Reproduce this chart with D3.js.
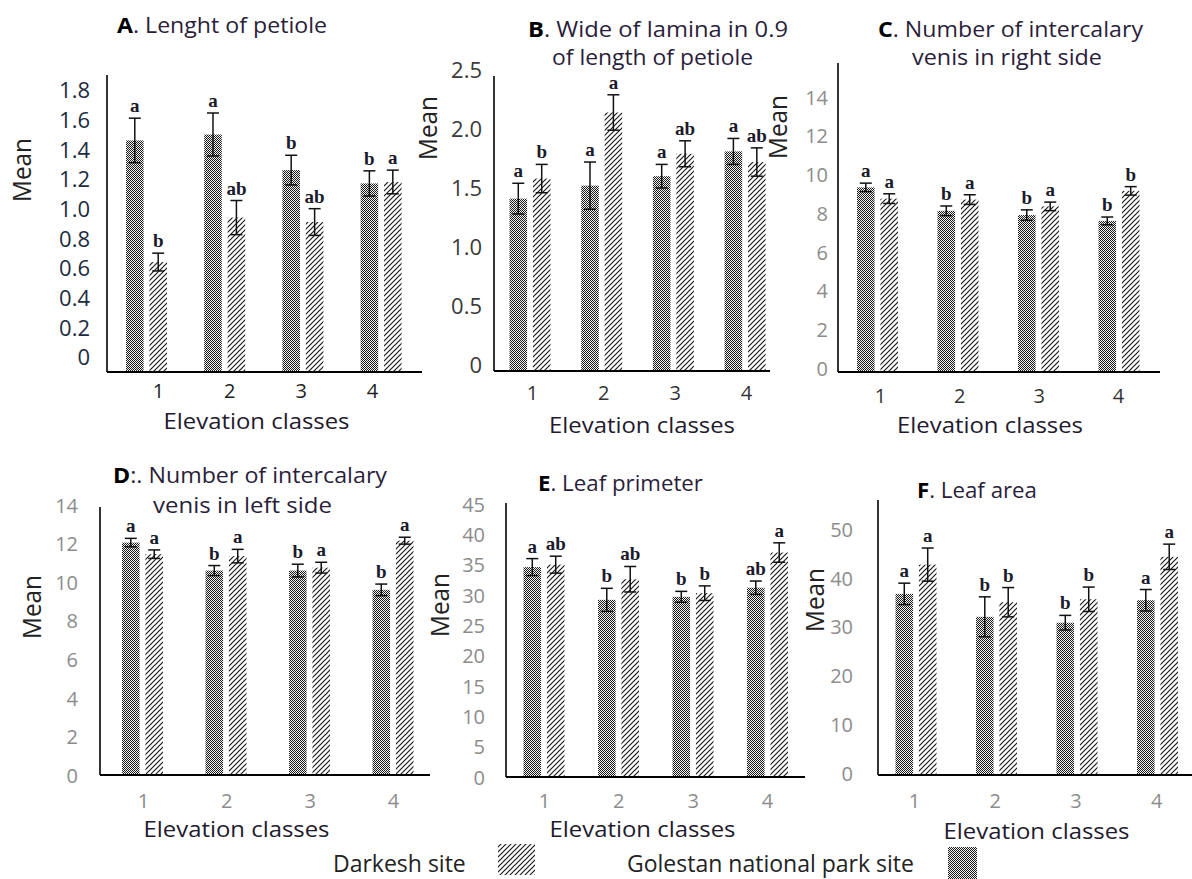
<!DOCTYPE html>
<html><head><meta charset="utf-8">
<script src="https://cdn.jsdelivr.net/npm/d3@7"></script>
<style>body{margin:0;background:#fff}svg{display:block}</style>
</head><body>
<svg id="chart" width="1192" height="879"></svg>
<script>
// ---------- DATA ----------
const elevationClasses = ["1", "2", "3", "4"];
const seriesNames = ["Golestan national park site", "Darkesh site"];

// A. Length of petiole
const petioleGolestan = [1.46, 1.50, 1.26, 1.17];
const petioleGolestanErr = [0.15, 0.145, 0.10, 0.085];
const petioleDarkesh = [0.64, 0.94, 0.91, 1.18];
const petioleDarkeshErr = [0.06, 0.115, 0.09, 0.08];
const petioleLettersG = ["a", "a", "b", "b"];
const petioleLettersD = ["b", "ab", "ab", "a"];
const petioleTicks = ["0", "0.2", "0.4", "0.6", "0.8", "1.0", "1.2", "1.4", "1.6", "1.8"];

// B. Width of lamina
const laminaGolestan = [1.41, 1.52, 1.60, 1.81];
const laminaGolestanErr = [0.13, 0.20, 0.10, 0.11];
const laminaDarkesh = [1.58, 2.14, 1.79, 1.72];
const laminaDarkeshErr = [0.12, 0.15, 0.11, 0.12];
const laminaLettersG = ["a", "a", "a", "a"];
const laminaLettersD = ["b", "a", "ab", "ab"];
const laminaTicks = ["0", "0.5", "1.0", "1.5", "2.0", "2.5"];

// C. Intercalary veins right side
const rightGolestan = [9.33, 8.12, 7.90, 7.60];
const rightGolestanErr = [0.22, 0.25, 0.27, 0.20];
const rightDarkesh = [8.75, 8.70, 8.35, 9.15];
const rightDarkeshErr = [0.25, 0.25, 0.22, 0.22];
const rightLettersG = ["a", "b", "b", "b"];
const rightLettersD = ["a", "a", "a", "b"];
const rightTicks = ["0", "2", "4", "6", "8", "10", "12", "14"];

// D. Intercalary veins left side
const leftGolestan = [12.05, 10.60, 10.60, 9.60];
const leftGolestanErr = [0.22, 0.26, 0.33, 0.30];
const leftDarkesh = [11.45, 11.35, 10.75, 12.15];
const leftDarkeshErr = [0.22, 0.35, 0.28, 0.18];
const leftLettersG = ["a", "b", "b", "b"];
const leftLettersD = ["a", "a", "a", "a"];
const leftTicks = ["0", "2", "4", "6", "8", "10", "12", "14"];

// E. Leaf perimeter
const perimGolestan = [34.6, 29.2, 29.7, 31.2];
const perimGolestanErr = [1.4, 1.9, 0.9, 1.1];
const perimDarkesh = [35.0, 32.6, 30.3, 37.0];
const perimDarkeshErr = [1.4, 2.1, 1.2, 1.6];
const perimLettersG = ["a", "b", "b", "ab"];
const perimLettersD = ["ab", "ab", "b", "a"];
const perimTicks = ["0", "5", "10", "15", "20", "25", "30", "35", "40", "45"];

// F. Leaf area
const areaGolestan = [36.7, 32.0, 30.8, 35.4];
const areaGolestanErr = [2.2, 4.1, 1.5, 2.2];
const areaDarkesh = [42.7, 35.0, 35.6, 44.3];
const areaDarkeshErr = [3.4, 3.0, 2.5, 2.6];
const areaLettersG = ["a", "b", "b", "a"];
const areaLettersD = ["a", "b", "b", "a"];
const areaTicks = ["0", "10", "20", "30", "40", "50"];

// ---------- PANELS (data refs + layout) ----------
const panels = [
  { letter: "A", rest: ". Lenght of petiole", line2: null,
    g: petioleGolestan, ge: petioleGolestanErr, d: petioleDarkesh, de: petioleDarkeshErr,
    lg: petioleLettersG, ld: petioleLettersD, ticks: petioleTicks,
    L: { ax: 107, top: 75, base: 372, right: 422, y0: 357, yTop: 90, lblR: 90, tickCol: "#1c2b40", tickSize: 22,
         c1: 146.5, step: 78.2, xl1: 158, xlStep: 71.3, xlBase: 398, xlCol: "#222",
         tx: 117, ty: 33, tw: 210, t2x: 0, t2y: 0, t2w: 0,
         ex: 256.5, ey: 429, mx: 22, my: 170 } },
  { letter: "B", rest: ". Wide of lamina in 0.9", line2: "of length of petiole",
    g: laminaGolestan, ge: laminaGolestanErr, d: laminaDarkesh, de: laminaDarkeshErr,
    lg: laminaLettersG, ld: laminaLettersD, ticks: laminaTicks,
    L: { ax: 494, top: 76, base: 371, right: 770, y0: 365, yTop: 70, lblR: 482, tickCol: "#3a3a3a", tickSize: 22,
         c1: 530, step: 71.7, xl1: 532, xlStep: 71.3, xlBase: 400, xlCol: "#333",
         tx: 528, ty: 37, tw: 260, t2x: 552, t2y: 65, t2w: 201,
         ex: 642, ey: 433, mx: 428, my: 128 } },
  { letter: "C", rest: ". Number of intercalary", line2: "venis in right side",
    g: rightGolestan, ge: rightGolestanErr, d: rightDarkesh, de: rightDarkeshErr,
    lg: rightLettersG, ld: rightLettersD, ticks: rightTicks,
    L: { ax: 838, top: 63, base: 372, right: 1160, y0: 368, yTop: 97, lblR: 828, tickCol: "#8c8c8c", tickSize: 20,
         c1: 877.5, step: 80.5, xl1: 880, xlStep: 79.3, xlBase: 403, xlCol: "#333",
         tx: 878, ty: 37, tw: 265, t2x: 912, t2y: 65, t2w: 190,
         ex: 990, ey: 433, mx: 778, my: 127 } },
  { letter: "D", rest: ":. Number of intercalary", line2: "venis in left side",
    g: leftGolestan, ge: leftGolestanErr, d: leftDarkesh, de: leftDarkeshErr,
    lg: leftLettersG, ld: leftLettersD, ticks: leftTicks,
    L: { ax: 100, top: 507, base: 775, right: 430, y0: 775, yTop: 505, lblR: 78, tickCol: "#8c8c8c", tickSize: 20,
         c1: 142.5, step: 83.5, xl1: 143, xlStep: 83.3, xlBase: 808, xlCol: "#8c8c8c",
         tx: 113, ty: 483, tw: 274, t2x: 153, t2y: 513, t2w: 179,
         ex: 236.5, ey: 837, mx: 32, my: 607 } },
  { letter: "E", rest: ". Leaf primeter", line2: null,
    g: perimGolestan, ge: perimGolestanErr, d: perimDarkesh, de: perimDarkeshErr,
    lg: perimLettersG, ld: perimLettersD, ticks: perimTicks,
    L: { ax: 506, top: 503, base: 777, right: 805, y0: 777, yTop: 504, lblR: 485, tickCol: "#8c8c8c", tickSize: 20,
         c1: 544, step: 74.5, xl1: 544, xlStep: 74.3, xlBase: 808, xlCol: "#8c8c8c",
         tx: 538, ty: 491, tw: 165, t2x: 0, t2y: 0, t2w: 0,
         ex: 642.5, ey: 837, mx: 440, my: 605 } },
  { letter: "F", rest: ". Leaf area", line2: null,
    g: areaGolestan, ge: areaGolestanErr, d: areaDarkesh, de: areaDarkeshErr,
    lg: areaLettersG, ld: areaLettersD, ticks: areaTicks,
    L: { ax: 878, top: 500, base: 775, right: 1192, y0: 773, yTop: 529, lblR: 853, tickCol: "#8c8c8c", tickSize: 20,
         c1: 916, step: 80.5, xl1: 914, xlStep: 80.7, xlBase: 808, xlCol: "#8c8c8c",
         tx: 917, ty: 498, tw: 120, t2x: 0, t2y: 0, t2w: 0,
         ex: 1036.5, ey: 839, mx: 815, my: 600 } }
];

// ---------- DRAW ----------
const svg = d3.select("#chart");
const SANS = "'Open Sans', 'Noto Sans', sans-serif";
const SERIF = "'Liberation Serif', 'DejaVu Serif', serif";

const defs = svg.append("defs");
const chk = defs.append("pattern").attr("id", "checker").attr("patternUnits", "userSpaceOnUse")
  .attr("width", 2).attr("height", 2);
chk.append("rect").attr("width", 2).attr("height", 2).attr("fill", "#f2f2f2");
chk.append("rect").attr("width", 1).attr("height", 1).attr("fill", "#1a1a1a");
chk.append("rect").attr("x", 1).attr("y", 1).attr("width", 1).attr("height", 1).attr("fill", "#1a1a1a");

const hat = defs.append("pattern").attr("id", "hatch").attr("patternUnits", "userSpaceOnUse")
  .attr("width", 5).attr("height", 5);
hat.append("rect").attr("width", 5).attr("height", 5).attr("fill", "#fff");
hat.append("path").attr("d", "M0,5 L5,0 M-1.25,1.25 L1.25,-1.25 M3.75,6.25 L6.25,3.75")
  .attr("stroke", "#1a1a1a").attr("stroke-width", 1.2);

const seriesKeys = ["G", "D"];

panels.forEach(p => {
  const L = p.L;
  const gp = svg.append("g");
  const y = d3.scaleLinear().domain([0, +p.ticks[p.ticks.length - 1]]).range([L.y0, L.yTop]);
  const x = d3.scaleBand().domain(elevationClasses)
    .range([L.c1 - L.step / 2, L.c1 + L.step * (elevationClasses.length - 0.5)]).padding(0);
  const xs = d3.scaleBand().domain(seriesKeys).range([-20.5, 20.5]).paddingInner(0.25).paddingOuter(0);
  const xl = d3.scalePoint().domain(elevationClasses)
    .range([L.xl1, L.xl1 + L.xlStep * (elevationClasses.length - 1)]);

  // y tick labels via axis
  const ya = gp.append("g").attr("transform", `translate(${L.lblR},0)`)
    .call(d3.axisLeft(y).tickValues(p.ticks.map(Number)).tickFormat((v, i) => p.ticks[i]).tickSize(0).tickPadding(0));
  ya.select(".domain").remove();
  ya.selectAll("text").attr("font-family", SANS).attr("font-size", L.tickSize).attr("fill", L.tickCol)
    .attr("x", 0).attr("dy", "0.36em");

  // bars
  const rows = elevationClasses.map((c, i) => ({ c, i }));
  const series = [
    { key: "G", vals: p.g, errs: p.ge, lets: p.lg, fill: "url(#checker)" },
    { key: "D", vals: p.d, errs: p.de, lets: p.ld, fill: "url(#hatch)" }
  ];
  series.forEach(s => {
    const bx = r => x(r.c) + x.bandwidth() / 2 + xs(s.key);
    const cx = r => bx(r) + xs.bandwidth() / 2;
    gp.selectAll(null).data(rows).join("rect")
      .attr("x", bx).attr("width", xs.bandwidth())
      .attr("y", r => y(s.vals[r.i])).attr("height", r => L.base - y(s.vals[r.i]))
      .attr("fill", s.fill);
    // error bars
    const eb = gp.selectAll(null).data(rows).join("g").attr("stroke", "#111").attr("stroke-width", 1.5);
    eb.append("line").attr("x1", cx).attr("x2", cx)
      .attr("y1", r => y(s.vals[r.i] + s.errs[r.i])).attr("y2", r => y(s.vals[r.i] - s.errs[r.i]));
    eb.append("line").attr("x1", r => cx(r) - 6).attr("x2", r => cx(r) + 6)
      .attr("y1", r => y(s.vals[r.i] + s.errs[r.i])).attr("y2", r => y(s.vals[r.i] + s.errs[r.i]));
    eb.append("line").attr("x1", r => cx(r) - 6).attr("x2", r => cx(r) + 6)
      .attr("y1", r => y(s.vals[r.i] - s.errs[r.i])).attr("y2", r => y(s.vals[r.i] - s.errs[r.i]));
    // significance letters
    gp.selectAll(null).data(rows).join("text")
      .attr("x", cx).attr("y", r => y(s.vals[r.i] + s.errs[r.i]) - 6)
      .attr("text-anchor", "middle").attr("font-family", SERIF).attr("font-weight", "bold")
      .attr("font-size", 19).attr("fill", "#1b1b2b").text(r => s.lets[r.i]);
  });

  // axis lines
  gp.append("line").attr("x1", L.ax).attr("x2", L.ax).attr("y1", L.top).attr("y2", L.base)
    .attr("stroke", "#000").attr("stroke-width", 1.6);
  gp.append("line").attr("x1", L.ax).attr("x2", L.right).attr("y1", L.base).attr("y2", L.base)
    .attr("stroke", "#000").attr("stroke-width", 2);

  // x tick labels via axis
  const xa = gp.append("g").attr("transform", `translate(0,${L.xlBase})`)
    .call(d3.axisBottom(xl).tickSize(0).tickPadding(0));
  xa.select(".domain").remove();
  xa.selectAll("text").attr("font-family", SANS).attr("font-size", 20).attr("fill", L.xlCol)
    .attr("y", 0).attr("dy", 0);

  // x title
  gp.append("text").attr("x", L.ex).attr("y", L.ey).attr("text-anchor", "middle")
    .attr("font-family", SANS).attr("font-size", 22).attr("fill", "#231a2e")
    .attr("textLength", 186).attr("lengthAdjust", "spacingAndGlyphs").text("Elevation classes");

  // y title
  gp.append("text").attr("transform", `translate(${L.mx},${L.my}) rotate(-90)`)
    .attr("text-anchor", "middle").attr("dy", "0.36em")
    .attr("font-family", SANS).attr("font-size", 25).attr("fill", "#222")
    .attr("textLength", 64).attr("lengthAdjust", "spacingAndGlyphs").text("Mean");

  // panel title
  const t1 = gp.append("text").attr("x", L.tx).attr("y", L.ty)
    .attr("font-family", SANS).attr("font-size", 21).attr("fill", "#2a1e3a")
    .attr("textLength", L.tw).attr("lengthAdjust", "spacingAndGlyphs");
  t1.append("tspan").attr("font-weight", "bold").attr("fill", "#000").text(p.letter);
  t1.append("tspan").text(p.rest);
  if (p.line2) {
    gp.append("text").attr("x", L.t2x).attr("y", L.t2y)
      .attr("font-family", SANS).attr("font-size", 21).attr("fill", "#2a1e3a")
      .attr("textLength", L.t2w).attr("lengthAdjust", "spacingAndGlyphs").text(p.line2);
  }
});

// ---------- LEGEND ----------
const legendItems = [
  { name: seriesNames[1], fill: "url(#hatch)", tx: 333, sx: 498, sy: 844, sw: 37, sh: 31 },
  { name: seriesNames[0], fill: "url(#checker)", tx: 627, sx: 948, sy: 847, sw: 29, sh: 32 }
];
const lg = svg.append("g");
lg.selectAll(null).data(legendItems).join("text")
  .attr("x", d => d.tx).attr("y", 872).attr("font-family", SANS).attr("font-size", 23)
  .attr("fill", "#222").text(d => d.name);
lg.selectAll(null).data(legendItems).join("rect")
  .attr("x", d => d.sx).attr("y", d => d.sy).attr("width", d => d.sw).attr("height", d => d.sh)
  .attr("fill", d => d.fill);
</script>
</body></html>
